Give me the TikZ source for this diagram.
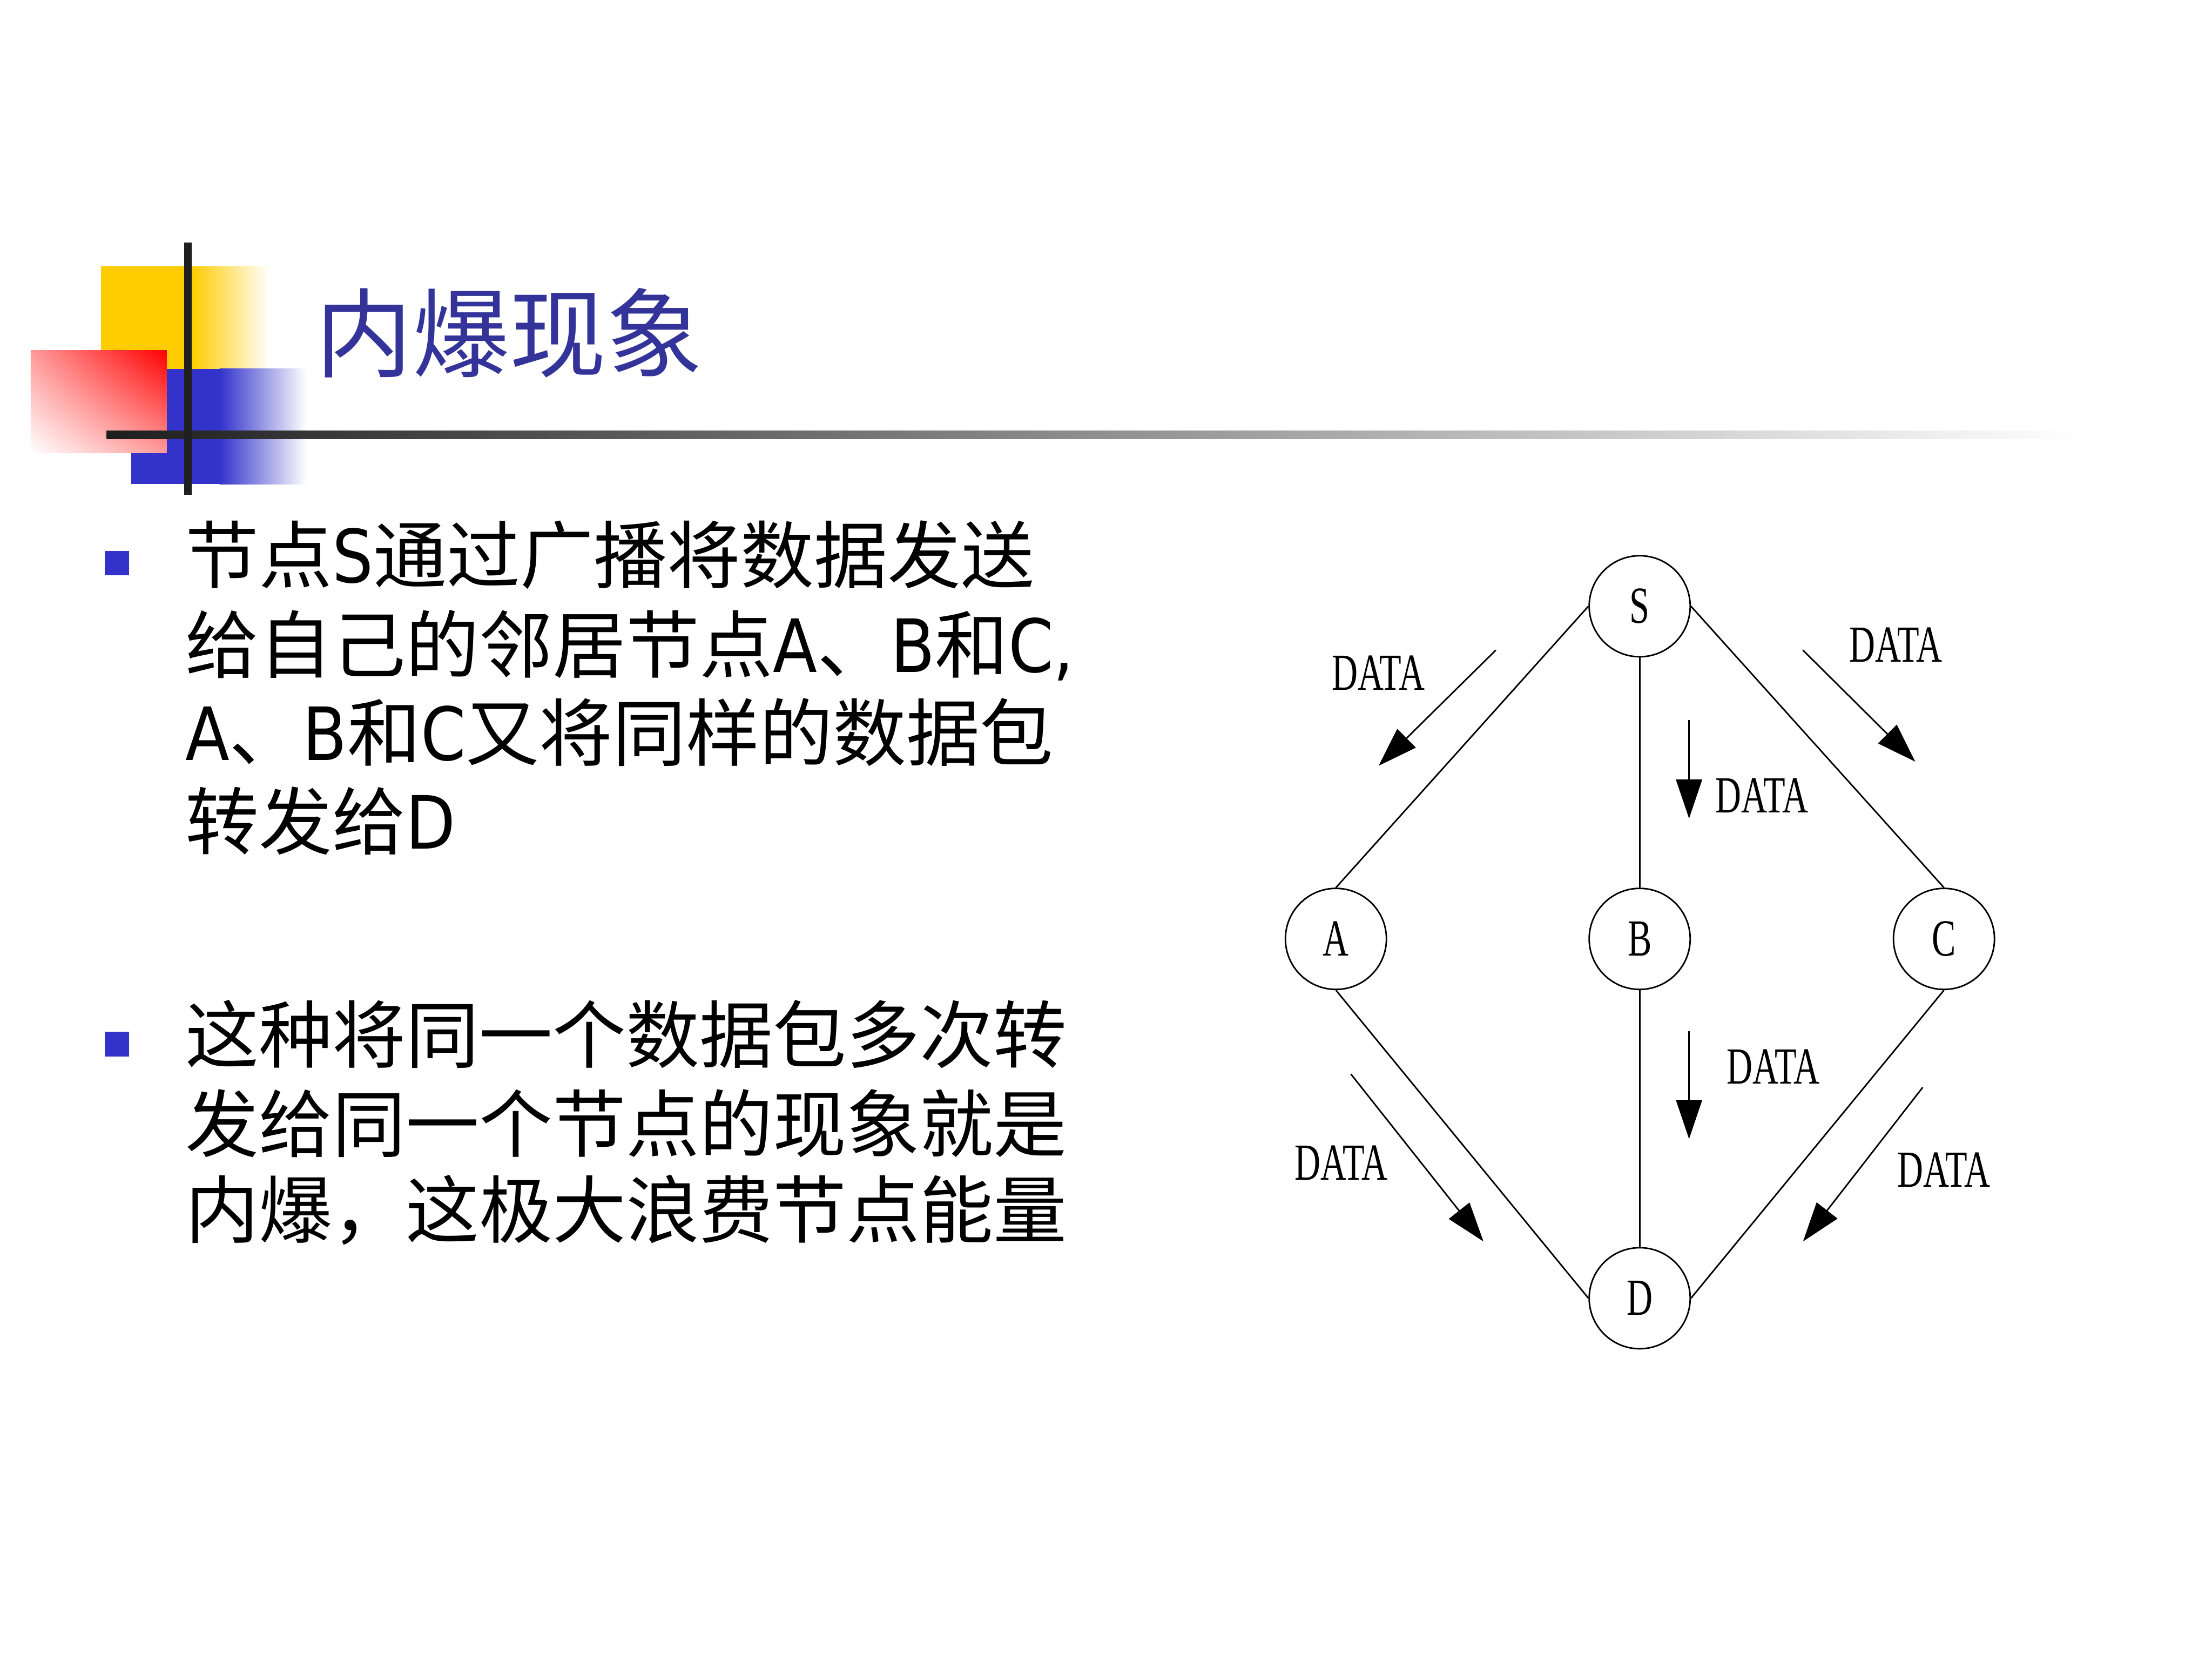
\documentclass[tikz,border=0pt]{standalone}
\usepackage{fontspec}
\usetikzlibrary{arrows.meta,shadings}
\newfontfamily\cjkfont{Noto Sans CJK SC}
\newfontfamily\westfont[FakeStretch=0.88]{DejaVu Sans}
\newfontfamily\datafont[FakeStretch=0.69]{Liberation Serif}
\newcommand{\ltr}[1]{{\westfont #1}}
\definecolor{titleblue}{HTML}{333399}
\definecolor{bulletblue}{HTML}{3333CC}
\definecolor{decoyellow}{HTML}{FFCC00}
\definecolor{decoblue}{HTML}{3333CC}
\definecolor{decored}{HTML}{FF0000}

\begin{document}
\begin{tikzpicture}[
    station/.style={circle, draw, line width=0.5pt, minimum size=1.16cm, inner sep=0pt,
      font=\datafont\fontsize{17}{19}\selectfont},
    link/.style={line width=0.5pt},
    flow/.style={line width=0.5pt, -{Triangle[length=4.5mm, width=3mm]}},
    datalabel/.style={inner sep=0pt, font=\datafont\fontsize{17}{19}\selectfont},
    bodyline/.style={anchor=base west, inner sep=0pt, font=\cjkfont\fontsize{24}{29}\selectfont},
    marker/.style={fill=bulletblue, minimum size=0.28cm, inner sep=0pt},
  ]
  \useasboundingbox (0,0) rectangle (25.4,19.066);
  \fill[white] (0,0) rectangle (25.4,19.066);

  % header decoration
  \fill[decoyellow] (1.159,14.832) rectangle (2.199,16.007);
  \shade[left color=decoyellow, right color=white] (2.199,14.832) rectangle (3.096,16.007);
  \fill[decoblue] (1.506,13.507) rectangle (2.522,14.832);
  \shade[left color=decoblue, right color=white] (2.522,13.507) rectangle (3.520,14.832);
  \shade[upper right=decored, upper left=decored!40, lower right=decored!40, lower left=white]
    (0.353,13.865) rectangle (1.915,15.043);
  \shade[left color=black!88, right color=white] (1.225,14.027) rectangle (23.9,14.123);
  \fill[black!88] (2.116,13.387) rectangle (2.200,16.280);

  \node[anchor=base west, inner sep=0pt, text=titleblue, font=\cjkfont\fontsize{31.6}{36}\selectfont]
    (title) at (3.62,14.82) {内爆现象};

  % bullets
  \node[marker] (mk1) at (1.345,12.603) {};
  \node[bodyline] (l11) at (2.12,12.38) {节点\ltr{S}通过广播将数据发送};
  \node[bodyline] (l12) at (2.12,11.35) {给自己的邻居节点\ltr{A}、\ltr{B}和\ltr{C,}};
  \node[bodyline] (l13) at (2.12,10.34) {\ltr{A}、\ltr{B}和\ltr{C}又将同样的数据包};
  \node[bodyline] (l14) at (2.12,9.32) {转发给\ltr{D}};

  \node[marker] (mk2) at (1.345,7.079) {};
  \node[bodyline] (l21) at (2.12,6.87) {这种将同一个数据包多次转};
  \node[bodyline] (l22) at (2.12,5.85) {发给同一个节点的现象就是};
  \node[bodyline] (l23) at (2.12,4.86) {内爆，这极大浪费节点能量};

  % network
  \node[station] (s) at (18.828,12.106) {S};
  \node[station] (a) at (15.340,8.287) {A};
  \node[station] (b) at (18.828,8.287) {B};
  \node[station] (c) at (22.322,8.287) {C};
  \node[station] (d) at (18.828,4.162) {D};

  \draw[link] (s.west) -- (a.north);
  \draw[link] (s.south) -- (b.north);
  \draw[link] (s.east) -- (c.north);
  \draw[link] (a.south) -- (d.west);
  \draw[link] (b.south) -- (d.north);
  \draw[link] (c.south) -- (d.east);

  \coordinate (sa0) at (17.176,11.602);
  \coordinate (sa1) at (15.831,10.275);
  \coordinate (sc0) at (20.702,11.602);
  \coordinate (sc1) at (21.992,10.322);
  \coordinate (sb0) at (19.395,10.797);
  \coordinate (sb1) at (19.395,9.669);
  \coordinate (bd0) at (19.395,7.230);
  \coordinate (bd1) at (19.395,5.990);
  \coordinate (ad0) at (15.512,6.735);
  \coordinate (ad1) at (17.034,4.814);
  \coordinate (cd0) at (22.078,6.583);
  \coordinate (cd1) at (20.704,4.814);

  \draw[flow] (sa0) -- (sa1);
  \draw[flow] (sc0) -- (sc1);
  \draw[flow] (sb0) -- (sb1);
  \draw[flow] (bd0) -- (bd1);
  \draw[flow] (ad0) -- (ad1);
  \draw[flow] (cd0) -- (cd1);

  \node[datalabel] (dsa) at (15.826,11.343) {DATA};
  \node[datalabel] (dsc) at (21.771,11.663) {DATA};
  \node[datalabel] (dsb) at (20.233,9.930) {DATA};
  \node[datalabel] (dbd) at (20.362,6.820) {DATA};
  \node[datalabel] (dad) at (15.400,5.718) {DATA};
  \node[datalabel] (dcd) at (22.322,5.637) {DATA};
\end{tikzpicture}
\end{document}
